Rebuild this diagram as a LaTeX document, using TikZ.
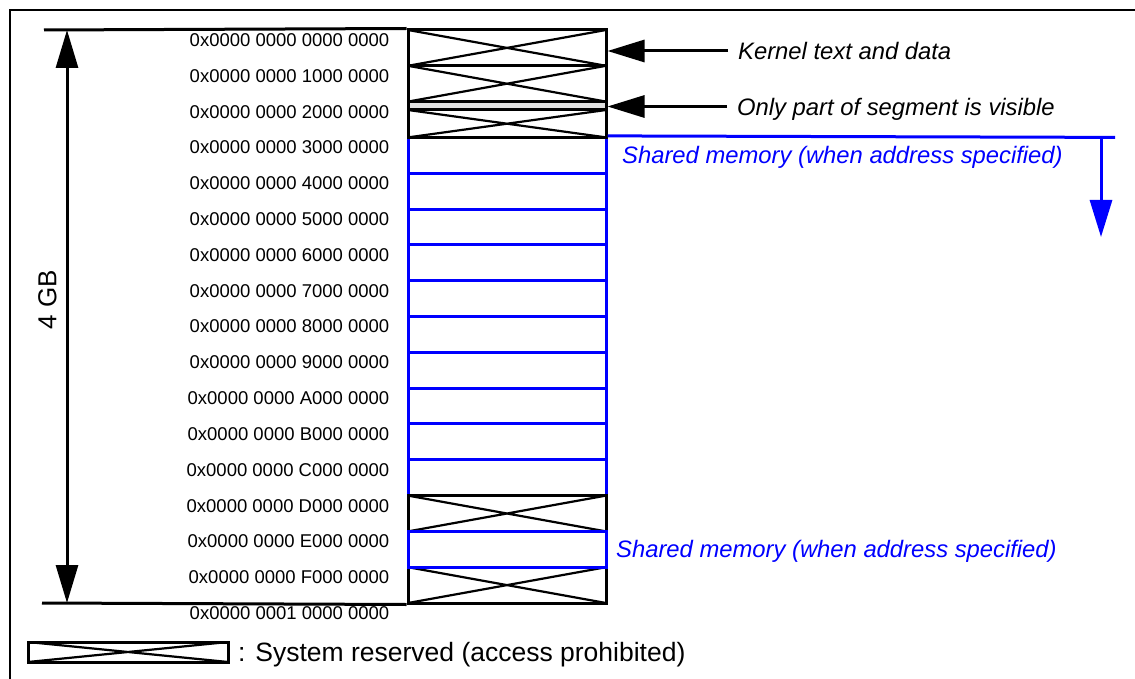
\documentclass[tikz,border=0pt]{standalone}
\usepackage{fontspec}
\setmainfont{Liberation Sans}
\usetikzlibrary{arrows.meta}
\tikzset{
 rs/.style={rectangle,draw,line width=3pt,inner sep=0pt,minimum width=198pt,minimum height=35.8pt,
  path picture={\draw[line width=2.2pt] (path picture bounding box.north west)--(path picture bounding box.south east)
   (path picture bounding box.south west)--(path picture bounding box.north east);}},
 sh/.style={rectangle,draw=blue,line width=3pt,inner sep=0pt,minimum width=198pt,minimum height=35.8pt},
 ad/.style={anchor=east,inner sep=0pt,text depth=0pt,font=\fontsize{18.5}{20}\selectfont},
 nt/.style={anchor=west,inner sep=0pt,text depth=0pt,font=\fontsize{23.8}{26}\selectfont\itshape},
 la/.style={line width=3pt,-{Triangle[length=37pt,width=22pt]}}}

\begin{document}
\begin{tikzpicture}[x=1pt,y=-1pt]
 \useasboundingbox (0,0) rectangle (1135,679);
 \draw[line width=1.2pt] (10,679)--(10,10)--(1135,10);
 % shared segments
 \node[sh] (s3) at (507,155.3) {};
 \node[sh] (s4) at (507,191.2) {};
 \node[sh] (s5) at (507,227.0) {};
 \node[sh] (s6) at (507,262.8) {};
 \node[sh] (s7) at (507,298.6) {};
 \node[sh] (s8) at (507,334.4) {};
 \node[sh] (s9) at (507,370.2) {};
 \node[sh] (s10) at (507,406.0) {};
 \node[sh] (s11) at (507,441.8) {};
 \node[sh] (s12) at (507,477.7) {};
 % reserved segments
 \node[rs] (s0) at (507,47.9) {};
 \node[rs] (s1) at (507,83.7) {};
 \node[rs,minimum height=27.4pt] (s2) at (507,123.7) {};
 \node[rectangle,draw,line width=3pt,fill=black!12,inner sep=0pt,minimum width=198pt,minimum height=8.4pt] (part) at (507,105.8) {};
 \node[rs] (s13) at (507,513.5) {};
 \node[rs] (s15) at (507,585.1) {};
 \node[sh] (s14) at (507,549.3) {};
 % addresses
 \node[ad] (a0) at (389.5,40.0) {0x0000 0000 0000 0000};
 \node[ad] (a1) at (389.5,75.8) {0x0000 0000 1000 0000};
 \node[ad] (a2) at (389.5,111.6) {0x0000 0000 2000 0000};
 \node[ad] (a3) at (389.5,147.4) {0x0000 0000 3000 0000};
 \node[ad] (a4) at (389.5,183.3) {0x0000 0000 4000 0000};
 \node[ad] (a5) at (389.5,219.1) {0x0000 0000 5000 0000};
 \node[ad] (a6) at (389.5,254.9) {0x0000 0000 6000 0000};
 \node[ad] (a7) at (389.5,290.7) {0x0000 0000 7000 0000};
 \node[ad] (a8) at (389.5,326.5) {0x0000 0000 8000 0000};
 \node[ad] (a9) at (389.5,362.3) {0x0000 0000 9000 0000};
 \node[ad] (a10) at (389.5,398.1) {0x0000 0000 A000 0000};
 \node[ad] (a11) at (389.5,433.9) {0x0000 0000 B000 0000};
 \node[ad] (a12) at (389.5,469.8) {0x0000 0000 C000 0000};
 \node[ad] (a13) at (389.5,505.6) {0x0000 0000 D000 0000};
 \node[ad] (a14) at (389.5,541.4) {0x0000 0000 E000 0000};
 \node[ad] (a15) at (389.5,577.2) {0x0000 0000 F000 0000};
 \node[ad] (a16) at (389.5,613.0) {0x0000 0001 0000 0000};
 % 4 GB span
 \coordinate (tl) at (44,30);
 \coordinate (bl) at (42,603);
 \coordinate (gtop) at (67,30);
 \coordinate (gbot) at (67,603);
 \draw[line width=3pt] (tl)--(s0.north west) (bl)--(s15.south west);
 \draw[line width=3pt,{Triangle[length=38pt,width=22pt]}-{Triangle[length=38pt,width=22pt]}] (gtop)--(gbot);
 \node[rotate=90,inner sep=0pt,font=\fontsize{26}{28}\selectfont] (gb) at (47.5,300) {4 GB};
 % notes
 \node[nt] (kern) at (738,51) {Kernel text and data};
 \node[nt] (vis) at (737,106.5) {Only part of segment is visible};
 \node[nt,text=blue] (sm1) at (622,155) {Shared memory (when address specified)};
 \node[nt,text=blue] (sm2) at (616,549) {Shared memory (when address specified)};
 \draw[la,shorten <=10pt] (kern.west)--(kern.west -| s0.east);
 \draw[la,shorten <=10pt] (vis.west)--(vis.west -| part.east);
 \coordinate (lend) at (1115,137.4);
 \coordinate (bend) at (1101,137.4);
 \coordinate (dtip) at (1101,237);
 \draw[blue,line width=3pt] (s3.north east)--(lend);
 \draw[la,blue] (bend)--(dtip);
 % key
 \node[rs,minimum width=200pt,minimum height=20pt] (key) at (128,652) {};
 \node[anchor=west,inner sep=0pt,text depth=0pt,font=\fontsize{26.5}{28}\selectfont] (keyt) at (238,652) {: System reserved (access prohibited)};
\end{tikzpicture}
\end{document}
